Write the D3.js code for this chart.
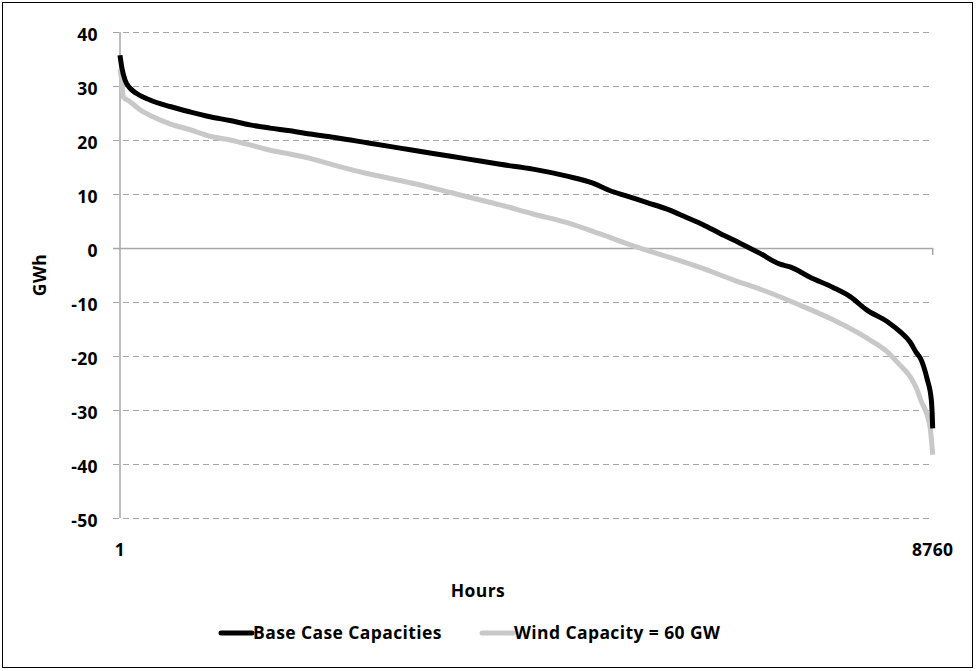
<!DOCTYPE html>
<html><head><meta charset="utf-8">
<script src="https://cdn.jsdelivr.net/npm/d3@7"></script>
<style>
html,body{margin:0;padding:0;background:#fff;}
svg text{font-family:"Open Sans",Lato,sans-serif;font-weight:bold;fill:#000;font-size:17.5px;letter-spacing:0.4px;}
</style></head>
<body><svg id="c" width="976" height="671"></svg>
<script>
const yTicks = [40,30,20,10,0,-10,-20,-30,-40,-50];
const xTickLabels = ["1","8760"];
const xTickValues = [1,8760];
const seriesNames = ["Base Case Capacities","Wind Capacity = 60 GW"];
const baseHours = [1,19,55,109,181,324,540,756,971,1187,1402,1618,1834,2049,2297,2663,3019,3375,3741,4097,4453,4819,5099,5284,5467,5682,5898,6113,6285,6468,6684,6900,7115,7223,7438,7686,7870,8052,8268,8408,8516,8588,8624,8699,8745,8755,8760];
const baseValues = [35.7,33.6,31.1,29.6,28.6,27.4,26.2,25.2,24.3,23.6,22.8,22.2,21.7,21.1,20.5,19.5,18.5,17.5,16.5,15.5,14.6,13.3,12.0,10.6,9.6,8.4,7.2,5.6,4.3,2.7,0.9,-1.0,-3.0,-3.5,-5.4,-7.3,-9.0,-11.5,-13.6,-15.5,-17.4,-19.5,-20.3,-24.2,-28.1,-31.0,-33.4];
const windHours = [1,19,36,109,217,357,540,756,971,1187,1402,1618,1834,2049,2297,2663,3019,3375,3741,4097,4453,4819,5176,5531,5898,6253,6609,6975,7331,7686,8052,8268,8408,8516,8580,8630,8731,8760];
const windValues = [33.1,31.1,28.0,27.1,25.6,24.3,23.0,21.9,20.7,20.0,19.1,18.1,17.4,16.6,15.4,13.8,12.5,11.1,9.5,8.0,6.3,4.7,2.6,0.4,-1.6,-3.6,-5.9,-8.1,-10.6,-13.3,-16.7,-19.2,-21.7,-23.8,-25.8,-28.1,-33.1,-38.3];
const colors = ["#000000","#c8c8c8"];

const svg = d3.select("#c");
svg.append("rect").attr("x",2.5).attr("y",2.5).attr("width",970).attr("height",665)
  .attr("fill","#fff").attr("stroke","#000").attr("stroke-width",1);

const L=120, R=932.7, T=32, B=518;
const x = d3.scaleLinear().domain([1,8760]).range([L,R]);
const y = d3.scaleLinear().domain([-50,40]).range([B,T]);

// gridlines
svg.append("g").selectAll("line").data(yTicks.filter(d=>d!==0)).enter().append("line")
  .attr("x1",L-7).attr("x2",R-2).attr("y1",d=>Math.round(y(d))+0.5).attr("y2",d=>Math.round(y(d))+0.5)
  .attr("stroke","#a6a6a6").attr("stroke-width",1).attr("stroke-dasharray","6,4");
// zero axis
svg.append("line").attr("x1",L-7).attr("x2",R).attr("y1",Math.round(y(0))+0.5).attr("y2",Math.round(y(0))+0.5)
  .attr("stroke","#a6a6a6").attr("stroke-width",1.5);
svg.append("line").attr("x1",R).attr("x2",R).attr("y1",y(0)).attr("y2",y(0)+7)
  .attr("stroke","#a6a6a6").attr("stroke-width",1.5);
// y axis line
svg.append("line").attr("x1",L).attr("x2",L).attr("y1",T).attr("y2",B)
  .attr("stroke","#a6a6a6").attr("stroke-width",1.5);

// y tick labels
svg.append("g").selectAll("text").data(yTicks).enter().append("text")
  .attr("x",98).attr("y",d=>y(d)+8.5).attr("text-anchor","end")
  .text(d=>d);
// x tick labels
svg.append("g").selectAll("text").data(xTickValues).enter().append("text")
  .attr("x",d=>x(d)).attr("y",556).attr("text-anchor","middle")
  .text((d,i)=>xTickLabels[i]);

// axis titles
svg.append("text").attr("x",478).attr("y",597).attr("text-anchor","middle").text("Hours");
svg.append("text").attr("transform","translate(46,275) rotate(-90)").attr("text-anchor","middle").text("GWh");

// lines
const line = d3.line().x(d=>x(d[0])).y(d=>y(d[1])).curve(d3.curveMonotoneX);
const series = [d3.zip(baseHours,baseValues), d3.zip(windHours,windValues)];
svg.append("path").datum(series[1]).attr("d",line).attr("fill","none").attr("stroke",colors[1]).attr("stroke-width",5).attr("stroke-linejoin","round");
svg.append("path").datum(series[0]).attr("d",line).attr("fill","none").attr("stroke",colors[0]).attr("stroke-width",5).attr("stroke-linejoin","round");

// legend
const legX = [221,482];
seriesNames.forEach((n,i)=>{
  svg.append("line").attr("x1",legX[i]).attr("x2",legX[i]+31).attr("y1",633).attr("y2",633)
    .attr("stroke",colors[i]).attr("stroke-width",5).attr("stroke-linecap","round");
  svg.append("text").attr("x",legX[i]+32).attr("y",639).text(n);
});
</script></body></html>
